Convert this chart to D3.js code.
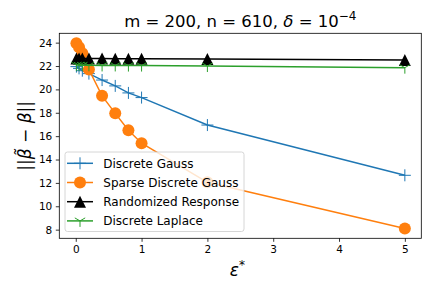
<!DOCTYPE html>
<html>
<head>
<meta charset="utf-8">
<script src="https://cdn.jsdelivr.net/npm/d3@7"></script>
<style>
  body { margin: 0; background: #fff; }
  svg { font-family: "DejaVu Sans", sans-serif; }
</style>
</head>
<body>
<div id="chart"></div>
<script>
// epsilon values and error norms
var epsilons = [0.01, 0.05, 0.1, 0.2, 0.4, 0.6, 0.8, 1.0, 2.0, 5.0];
var discreteGauss = [21.95, 21.8, 21.6, 21.35, 20.8, 20.3, 19.7, 19.3, 16.95, 12.65];
var sparseGauss = [23.95, 23.6, 23.1, 21.7, 19.45, 17.95, 16.5, 15.4, 12.05, 8.1];
var randResponse = [22.65, 22.65, 22.65, 22.64, 22.64, 22.63, 22.63, 22.62, 22.6, 22.52];
var discreteLaplace = [22.08, 22.07, 22.07, 22.06, 22.05, 22.05, 22.04, 22.04, 22.0, 21.86];
var xTicks = [0, 1, 2, 3, 4, 5];
var yTicks = [8, 10, 12, 14, 16, 18, 20, 22, 24];

var series = [
  {name: "Discrete Gauss", values: discreteGauss, color: "#1f77b4", marker: "plus"},
  {name: "Sparse Discrete Gauss", values: sparseGauss, color: "#ff7f0e", marker: "circle"},
  {name: "Randomized Response", values: randResponse, color: "#000000", marker: "triangle"},
  {name: "Discrete Laplace", values: discreteLaplace, color: "#2ca02c", marker: "tridown"}
];

var W = 432, H = 288;
var margin = {top: 33.3, right: 10.7, bottom: 49.7, left: 59.3};
var width = W - margin.left - margin.right;
var height = H - margin.top - margin.bottom;

var svg = d3.select("#chart").append("svg")
  .attr("width", W).attr("height", H);

var g = svg.append("g")
  .attr("transform", "translate(" + margin.left + "," + margin.top + ")");

var x = d3.scaleLinear().domain([-0.25, 5.25]).range([0, width]);
var y = d3.scaleLinear().domain([7.26, 24.8]).range([height, 0]);

// axes
var xAxis = d3.axisBottom(x).tickValues(xTicks).tickSize(3.5).tickPadding(3.5).tickFormat(d3.format("d"));
var yAxis = d3.axisLeft(y).tickValues(yTicks).tickSize(3.5).tickPadding(3.5).tickFormat(d3.format("d"));

var gx = g.append("g").attr("transform", "translate(0," + height + ")").call(xAxis);
var gy = g.append("g").call(yAxis);
[gx, gy].forEach(function(a) {
  a.select(".domain").remove();
  a.selectAll("line").attr("stroke", "#000").attr("stroke-width", 0.8);
  a.selectAll("text").attr("font-size", 10.5).attr("fill", "#000")
    .attr("font-family", "DejaVu Sans");
});

function markerPath(type, r) {
  if (type == "plus") return "M" + (-r) + ",0H" + r + "M0," + (-r) + "V" + r;
  if (type == "tridown") {
    var s = r * Math.sin(Math.PI / 3), c = r * 0.5;
    return "M0,0V" + r + "M0,0L" + (-s) + "," + (-c) + "M0,0L" + s + "," + (-c);
  }
  return null;
}

function drawMarker(sel, s, r) {
  if (s.marker == "circle") {
    sel.append("circle").attr("r", r).attr("fill", s.color);
  } else if (s.marker == "triangle") {
    var t = r;
    sel.append("path")
      .attr("d", "M0," + (-t) + "L" + t + "," + t + "L" + (-t) + "," + t + "Z")
      .attr("fill", s.color);
  } else {
    sel.append("path").attr("d", markerPath(s.marker, r))
      .attr("stroke", s.color).attr("stroke-width", 1).attr("fill", "none");
  }
}

var line = d3.line()
  .x(function(d, i) { return x(epsilons[i]); })
  .y(function(d) { return y(d); });

series.forEach(function(s) {
  var sg = g.append("g");
  sg.append("path")
    .datum(s.values)
    .attr("d", line)
    .attr("fill", "none")
    .attr("stroke", s.color)
    .attr("stroke-width", 1.5);
  s.values.forEach(function(v, i) {
    var m = sg.append("g").attr("transform", "translate(" + x(epsilons[i]) + "," + y(v) + ")");
    drawMarker(m, s, 6);
  });
});

// frame
g.append("rect").attr("width", width).attr("height", height)
  .attr("fill", "none").attr("stroke", "#000").attr("stroke-width", 0.8);

// legend
var leg = g.append("g").attr("transform", "translate(" + (65 - margin.left) + "," + (152 - margin.top) + ")");
leg.append("rect").attr("width", 179).attr("height", 79.5).attr("rx", 2.5)
  .attr("fill", "#fff").attr("fill-opacity", 0.8)
  .attr("stroke", "#cccccc").attr("stroke-width", 0.8);
series.forEach(function(s, i) {
  var row = leg.append("g").attr("transform", "translate(0," + (11.3 + i * 19.2) + ")");
  row.append("line").attr("x1", 2).attr("x2", 28)
    .attr("stroke", s.color).attr("stroke-width", 1.5);
  var m = row.append("g").attr("transform", "translate(15,0)");
  drawMarker(m, s, 6);
  row.append("text").attr("x", 38.3).attr("y", 0).attr("dy", "0.35em")
    .attr("font-size", 12).attr("fill", "#000").text(s.name);
});

// title
var title = svg.append("text").attr("x", margin.left + width / 2).attr("y", 27)
  .attr("text-anchor", "middle").attr("font-size", 16.5).attr("fill", "#000");
title.append("tspan").text("m = 200, n = 610, ");
title.append("tspan").attr("font-style", "italic").text("δ");
title.append("tspan").text(" = 10");
title.append("tspan").attr("dy", -7).attr("font-size", 12).text("−4");

// x label
var xl = svg.append("text").attr("x", margin.left + width / 2 - 3).attr("y", 276)
  .attr("text-anchor", "middle").attr("font-size", 17).attr("fill", "#000");
xl.append("tspan").attr("font-style", "italic").text("ε");
xl.append("tspan").attr("dy", -7).attr("font-size", 12).text("*");

// y label
var yl = svg.append("text")
  .attr("transform", "translate(31," + (margin.top + height / 2) + ") rotate(-90)")
  .attr("text-anchor", "middle").attr("font-size", 17).attr("fill", "#000");
yl.append("tspan").text("||");
yl.append("tspan").attr("font-style", "italic").text("β\u0303");
yl.append("tspan").text(" − ");
yl.append("tspan").attr("font-style", "italic").text("β");
yl.append("tspan").text("||");
</script>
</body>
</html>
